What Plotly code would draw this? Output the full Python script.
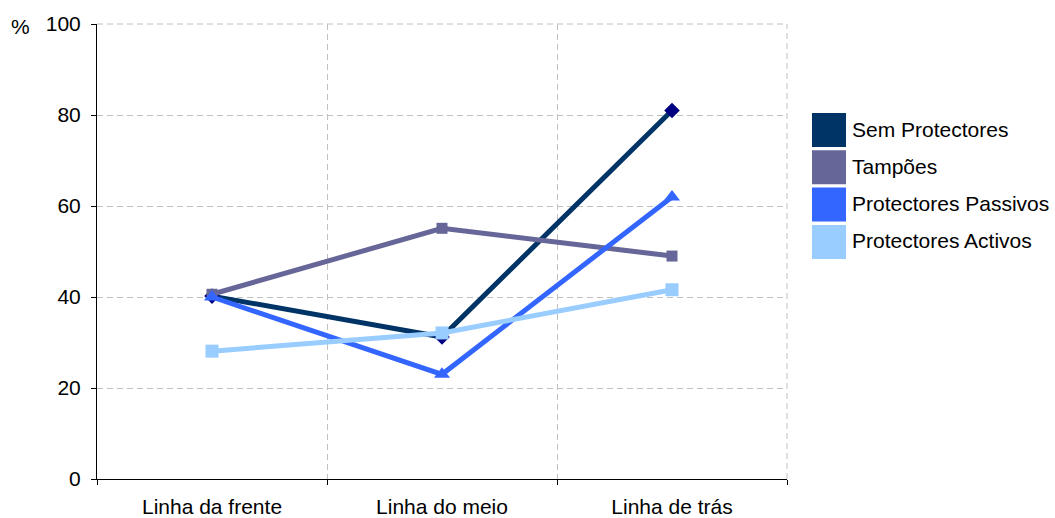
import plotly.graph_objects as go

categories = ["Linha da frente", "Linha do meio", "Linha de trás"]

sem_protectores = [40.2, 31.2, 81.0]
tampoes = [40.6, 55.1, 49.0]
protectores_passivos = [40.0, 23.0, 62.0]
protectores_activos = [28.1, 32.1, 41.6]

y_ticks = [0, 20, 40, 60, 80, 100]

series = [
    ("Sem Protectores", sem_protectores, "#003366", "#000080", "diamond", 12),
    ("Tampões", tampoes, "#666699", "#666699", "square", 11),
    ("Protectores Passivos", protectores_passivos, "#3366FF", "#3366FF", "triangle-up", 14),
    ("Protectores Activos", protectores_activos, "#99CCFF", "#99CCFF", "square", 13),
]

GRID = "#c0c0c0"
DASH = "6px,4px"

fig = go.Figure()
for name, vals, line_col, mk_col, sym, sz in series:
    fig.add_trace(go.Scatter(
        x=categories, y=vals, name=name, mode="lines+markers",
        line=dict(color=line_col, width=5),
        marker=dict(symbol=sym, size=sz, color=mk_col, line=dict(width=0)),
        showlegend=False,
    ))

# Dashed frame along the top and right edges of the plot area
shapes = [
    dict(type="line", xref="paper", yref="paper", x0=0, x1=1, y0=1, y1=1,
         line=dict(color=GRID, width=1, dash=DASH), layer="below"),
    dict(type="line", xref="paper", yref="paper", x0=1, x1=1, y0=0, y1=1,
         line=dict(color=GRID, width=1, dash=DASH), layer="below"),
]
annotations = []

# Legend drawn as coloured squares with labels on the right
box_top = 113
for i, (name, _, line_col, _, _, _) in enumerate(series):
    y0 = box_top + i * 37.3
    shapes.append(dict(type="rect", xref="paper", yref="paper",
                       x0=(812 - 97) / 690, x1=(846 - 97) / 690,
                       y0=1 - (y0 - 24) / 455, y1=1 - (y0 + 34 - 24) / 455,
                       fillcolor=line_col, line=dict(width=0), layer="above"))
    annotations.append(dict(text=name, xref="paper", yref="paper",
                            x=(850 - 97) / 690, y=1 - (y0 + 16 - 24) / 455,
                            xanchor="left", yanchor="middle", showarrow=False,
                            font=dict(size=21, color="#000000")))

annotations.append(dict(text="%", xref="paper", yref="paper",
                        x=(9 - 97) / 690, y=1 - (27 - 24) / 455,
                        xanchor="left", yanchor="middle", showarrow=False,
                        font=dict(size=21, color="#000000")))

fig.update_layout(
    width=1055, height=518,
    margin=dict(l=97, r=268, t=24, b=39),
    paper_bgcolor="white", plot_bgcolor="white",
    font=dict(family="Liberation Sans, Arial, sans-serif", size=21, color="#000000"),
    shapes=shapes, annotations=annotations,
    xaxis=dict(
        type="category", range=[-0.5, 2.5], tickson="boundaries",
        showgrid=True, gridcolor=GRID, griddash=DASH, gridwidth=1,
        showline=True, linecolor="#000000", linewidth=1,
        ticks="outside", ticklen=5, tickcolor="#000000",
        tickfont=dict(size=21), automargin=False, ticklabelstandoff=9,
    ),
    yaxis=dict(
        range=[0, 100], tickvals=y_ticks,
        showgrid=True, gridcolor=GRID, griddash=DASH, gridwidth=1,
        showline=True, linecolor="#000000", linewidth=1,
        ticks="outside", ticklen=5, tickcolor="#000000",
        tickfont=dict(size=21), zeroline=False, ticklabelstandoff=6,
        automargin=False,
    ),
)

fig.write_html("out.html")
